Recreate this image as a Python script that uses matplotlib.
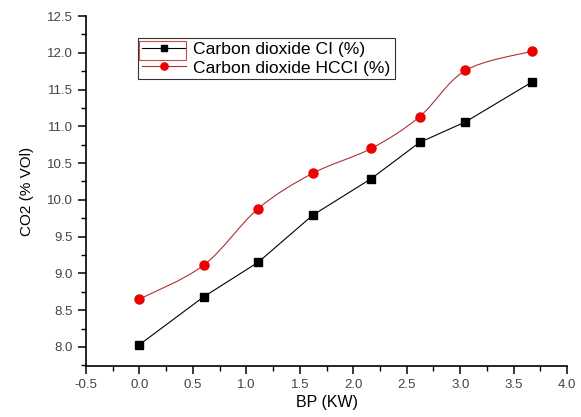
import numpy as np
import matplotlib.pyplot as plt
from matplotlib.path import Path
from matplotlib.patches import PathPatch, Rectangle
from matplotlib.ticker import MultipleLocator

plt.rcParams['font.family'] = ['Liberation Sans', 'DejaVu Sans']
plt.rcParams['axes.unicode_minus'] = False

# data
bp_kw = [0.0, 0.60, 1.11, 1.62, 2.17, 2.62, 3.05, 3.67]
co2_ci = [8.03, 8.68, 9.15, 9.79, 10.29, 10.78, 11.06, 11.60]
co2_hcci = [8.65, 9.11, 9.88, 10.36, 10.70, 11.13, 11.76, 12.02]


def smooth_path(x, y):
    # bezier through the points (like Origin's spline connect)
    x = np.asarray(x, float)
    y = np.asarray(y, float)
    verts = [(x[0], y[0])]
    codes = [Path.MOVETO]
    n = len(x)
    for i in range(n - 1):
        i0 = max(i - 1, 0)
        i3 = min(i + 2, n - 1)
        c1 = (x[i] + (x[i + 1] - x[i0]) / 6, y[i] + (y[i + 1] - y[i0]) / 6)
        c2 = (x[i + 1] - (x[i3] - x[i]) / 6, y[i + 1] - (y[i3] - y[i]) / 6)
        verts += [c1, c2, (x[i + 1], y[i + 1])]
        codes += [Path.CURVE4] * 3
    return Path(verts, codes)


fig = plt.figure(figsize=(5.81, 4.17), dpi=100)
ax = fig.add_axes([0.148, 0.1223, 0.828, 0.8393])

ax.plot(bp_kw, co2_ci, color='black', lw=0.8, marker='s', ms=6,
        mfc='black', mec='black', label='Carbon dioxide CI (%)')

ax.add_patch(PathPatch(smooth_path(bp_kw, co2_hcci), fill=False,
                       edgecolor='#b03030', lw=0.8))
ax.plot(bp_kw, co2_hcci, ls='none', marker='o', ms=6.5,
        mfc='#ee0000', mec='#ee0000')
# legend handle for the red series
ax.plot([], [], color='#b03030', lw=0.8, marker='o', ms=6.5,
        mfc='#ee0000', mec='#ee0000', label='Carbon dioxide HCCI (%)')

ax.set_xlim(-0.5, 4.0)
ax.set_ylim(7.74, 12.5)
ax.xaxis.set_major_locator(MultipleLocator(0.5))
ax.xaxis.set_minor_locator(MultipleLocator(0.25))
ax.yaxis.set_minor_locator(MultipleLocator(0.25))
ax.set_yticks(np.arange(8.0, 12.51, 0.5))

for s in ('top', 'right'):
    ax.spines[s].set_visible(False)
for s in ('left', 'bottom'):
    ax.spines[s].set_linewidth(1.2)

ax.tick_params(which='major', length=6, width=1.1, labelsize=9.5,
               labelcolor='#444444', direction='out')
ax.tick_params(which='minor', length=3.5, width=1.0, direction='out')

ax.set_xlabel('BP (KW)', fontsize=11.5, labelpad=3)
ax.set_ylabel('CO2 (% VOl)', fontsize=11, labelpad=9)

leg = ax.legend(loc='upper left', bbox_to_anchor=(0.108, 0.937),
                prop={'family': ['Liberation Sans'], 'size': 12.6},
                frameon=True, fancybox=False, markerscale=0.8,
                handlelength=2.5, borderpad=0.22, labelspacing=0.18,
                handletextpad=0.45, borderaxespad=0)
leg.get_frame().set_edgecolor('black')
leg.get_frame().set_linewidth(0.8)

# red highlight box around the first legend handle
fig.patches.append(Rectangle((139 / 581, 1 - 60 / 417), 47 / 581, 19 / 417,
                             transform=fig.transFigure, fill=False,
                             edgecolor='#c05050', lw=0.8, zorder=10))

fig.savefig('out.png', dpi=100)
